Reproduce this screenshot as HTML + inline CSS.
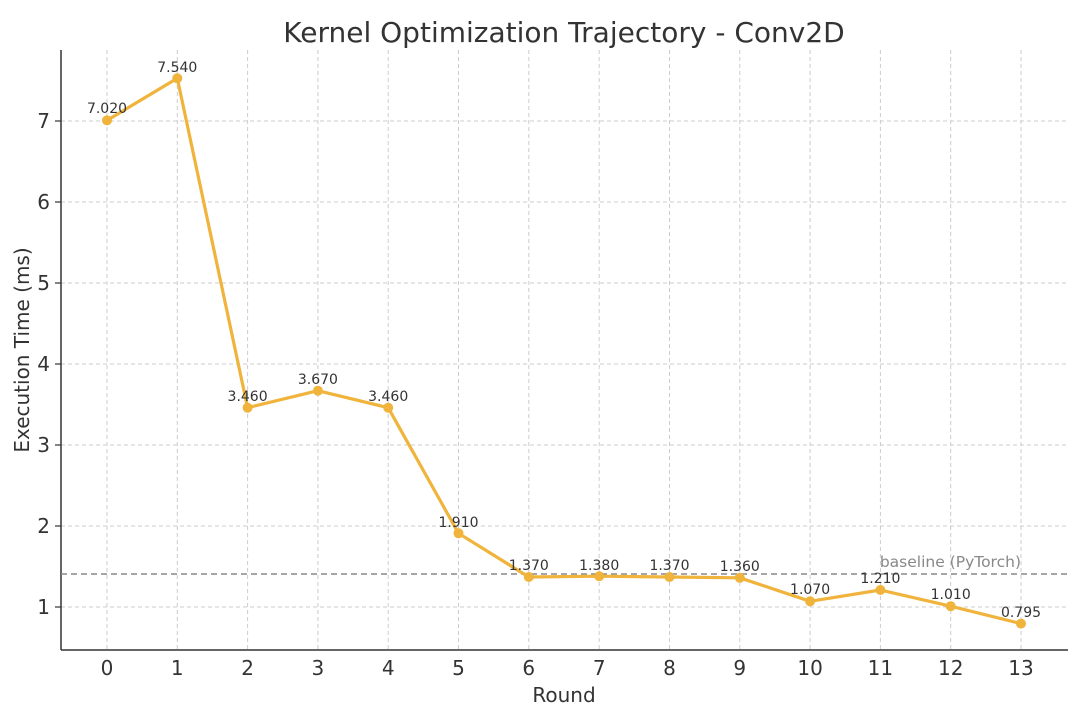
<!DOCTYPE html>
<html><head><meta charset="utf-8"><style>
body{margin:0;background:#fff;}
svg text{font-family:"DejaVu Sans","Liberation Sans",sans-serif;fill:#333;}
</style></head><body>
<svg width="1080" height="709" xmlns="http://www.w3.org/2000/svg">
<rect width="1080" height="709" fill="#fff"/>
<text x="564" y="42" font-size="28" text-anchor="middle">Kernel Optimization Trajectory - Conv2D</text>
<g stroke="#cccccc" stroke-width="1" stroke-dasharray="4,3">
<line x1="107" y1="50" x2="107" y2="650"/><line x1="177.3" y1="50" x2="177.3" y2="650"/><line x1="247.6" y1="50" x2="247.6" y2="650"/><line x1="317.9" y1="50" x2="317.9" y2="650"/><line x1="388.2" y1="50" x2="388.2" y2="650"/><line x1="458.5" y1="50" x2="458.5" y2="650"/><line x1="528.8" y1="50" x2="528.8" y2="650"/><line x1="599.2" y1="50" x2="599.2" y2="650"/><line x1="669.5" y1="50" x2="669.5" y2="650"/><line x1="739.8" y1="50" x2="739.8" y2="650"/><line x1="810.1" y1="50" x2="810.1" y2="650"/><line x1="880.4" y1="50" x2="880.4" y2="650"/><line x1="950.7" y1="50" x2="950.7" y2="650"/><line x1="1021" y1="50" x2="1021" y2="650"/>
<line x1="61" y1="607" x2="1068" y2="607"/><line x1="61" y1="526" x2="1068" y2="526"/><line x1="61" y1="445" x2="1068" y2="445"/><line x1="61" y1="364" x2="1068" y2="364"/><line x1="61" y1="283" x2="1068" y2="283"/><line x1="61" y1="202" x2="1068" y2="202"/><line x1="61" y1="121" x2="1068" y2="121"/>
</g>
<line x1="61" y1="50" x2="61" y2="650" stroke="#333" stroke-width="1.5"/>
<line x1="61" y1="650" x2="1068" y2="650" stroke="#333" stroke-width="1.5"/>
<g stroke="#333" stroke-width="1.2">
<line x1="55" y1="607" x2="61" y2="607"/><line x1="55" y1="526" x2="61" y2="526"/><line x1="55" y1="445" x2="61" y2="445"/><line x1="55" y1="364" x2="61" y2="364"/><line x1="55" y1="283" x2="61" y2="283"/><line x1="55" y1="202" x2="61" y2="202"/><line x1="55" y1="121" x2="61" y2="121"/>
</g>
<g font-size="20" text-anchor="end">
<text x="50" y="614">1</text><text x="50" y="533">2</text><text x="50" y="452">3</text><text x="50" y="371">4</text><text x="50" y="290">5</text><text x="50" y="209">6</text><text x="50" y="128">7</text>
</g>
<g font-size="20" text-anchor="middle">
<text x="107" y="675">0</text><text x="177.3" y="675">1</text><text x="247.6" y="675">2</text><text x="317.9" y="675">3</text><text x="388.2" y="675">4</text><text x="458.5" y="675">5</text><text x="528.8" y="675">6</text><text x="599.2" y="675">7</text><text x="669.5" y="675">8</text><text x="739.8" y="675">9</text><text x="810.1" y="675">10</text><text x="880.4" y="675">11</text><text x="950.7" y="675">12</text><text x="1021" y="675">13</text>
</g>
<text x="564" y="702" font-size="20" text-anchor="middle">Round</text>
<text transform="translate(29,350) rotate(-90)" font-size="20" text-anchor="middle">Execution Time (ms)</text>
<line x1="61" y1="574" x2="1068" y2="574" stroke="#888" stroke-width="1.5" stroke-dasharray="6,4"/>
<text x="1021" y="567" font-size="15.5" text-anchor="end" style="fill:#888">baseline (PyTorch)</text>
<polyline fill="none" stroke="#f0b43c" stroke-width="3.2" stroke-linejoin="round" points="107,120.4 177.3,78.3 247.6,407.7 317.9,390.7 388.2,407.7 458.5,533.3 528.8,577.0 599.2,576.2 669.5,577.0 739.8,577.8 810.1,601.3 880.4,590.0 950.7,606.2 1021,623.6"/>
<g fill="#f0b43c">
<circle cx="107" cy="120.4" r="5"/><circle cx="177.3" cy="78.3" r="5"/><circle cx="247.6" cy="407.7" r="5"/><circle cx="317.9" cy="390.7" r="5"/><circle cx="388.2" cy="407.7" r="5"/><circle cx="458.5" cy="533.3" r="5"/><circle cx="528.8" cy="577.0" r="5"/><circle cx="599.2" cy="576.2" r="5"/><circle cx="669.5" cy="577.0" r="5"/><circle cx="739.8" cy="577.8" r="5"/><circle cx="810.1" cy="601.3" r="5"/><circle cx="880.4" cy="590.0" r="5"/><circle cx="950.7" cy="606.2" r="5"/><circle cx="1021" cy="623.6" r="5"/>
</g>
<g font-size="14" text-anchor="middle">
<text x="107" y="113">7.020</text><text x="177.3" y="72">7.540</text><text x="247.6" y="401">3.460</text><text x="317.9" y="384">3.670</text><text x="388.2" y="401">3.460</text><text x="458.5" y="527">1.910</text><text x="528.8" y="570">1.370</text><text x="599.2" y="570">1.380</text><text x="669.5" y="570">1.370</text><text x="739.8" y="571">1.360</text><text x="810.1" y="594">1.070</text><text x="880.4" y="583">1.210</text><text x="950.7" y="599">1.010</text><text x="1021" y="617">0.795</text>
</g>
</svg>
</body></html>
